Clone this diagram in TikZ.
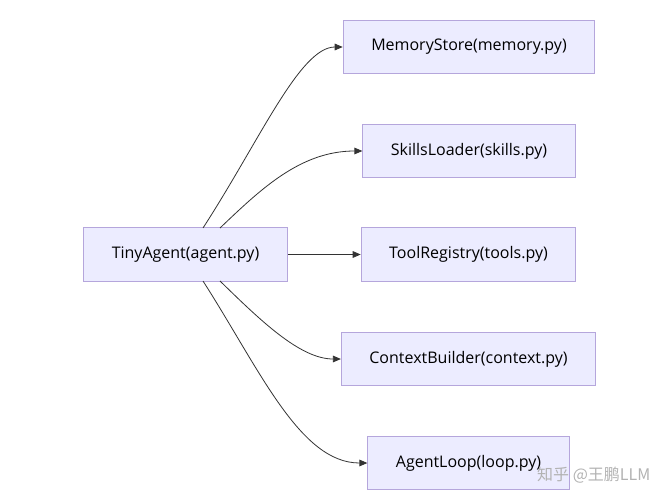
\documentclass[tikz,border=0pt]{standalone}
\usepackage{fontspec}
\setmainfont{Open Sans}
\newfontfamily\cjk{Noto Sans CJK SC}
\usetikzlibrary{arrows.meta}
\definecolor{boxline}{HTML}{B5A6DC}
\definecolor{boxfill}{HTML}{ECECFF}
\tikzset{
    box/.style = {draw = boxline, fill = boxfill, line width = 0.8pt, minimum height = 40pt, inner xsep = 21pt, font = \fontsize{12}{14}\selectfont},
    link/.style = {draw = black!80, line width = 0.6pt, -{Triangle[length = 6pt, width = 5pt]}}
}
\begin{document}
\begin{tikzpicture}[x = 0.75pt, y = -0.75pt]
    \useasboundingbox (0,0) rectangle (671,503);
    \node[box] (agent) at (185.5,254.5) {TinyAgent(agent.py)};
    \node[box] (memory) at (469,47) {MemoryStore(memory.py)};
    \node[box] (skills) at (469,151) {SkillsLoader(skills.py)};
    \node[box] (tools) at (468.5,254.5) {ToolRegistry(tools.py)};
    \node[box] (context) at (468.5,359) {ContextBuilder(context.py)};
    \node[box] (loop) at (468.5,463) {AgentLoop(loop.py)};
    \coordinate (a1) at (203,228);
    \coordinate (a2) at (220,228);
    \coordinate (a4) at (220,281);
    \coordinate (a5) at (203,281);
    \draw[link] (a1) .. controls (260,140) and (300,47) .. (memory.west);
    \draw[link] (a2) .. controls (260,190) and (300,151) .. (skills.west);
    \draw[link] (agent.east) -- (tools.west);
    \draw[link] (a4) .. controls (260,320) and (300,359) .. (context.west);
    \draw[link] (a5) .. controls (260,370) and (300,463) .. (loop.west);
    \node[text = black!30, font = \cjk\fontsize{12}{14}\selectfont, anchor = east] (mark) at (655,475) {知乎 @王鹏LLM};
\end{tikzpicture}
\end{document}
